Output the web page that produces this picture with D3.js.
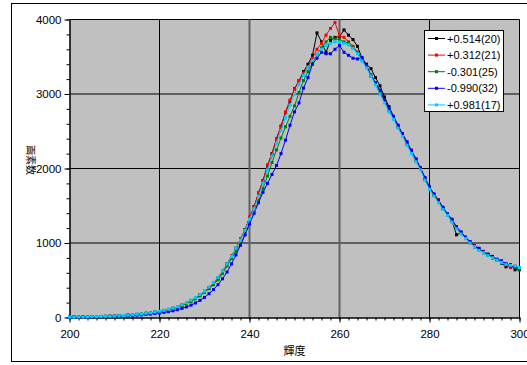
<!DOCTYPE html>
<html><head><meta charset="utf-8">
<script src="https://cdn.jsdelivr.net/npm/d3@7"></script>
<style>body{margin:0;background:#fff}svg{display:block}text{font-family:"Liberation Sans",Arial,sans-serif}</style>
</head><body><svg id="c" width="527" height="365"></svg>
<script>
const luminance = d3.range(200, 301);
const seriesNames = ["+0.514(20)", "+0.312(21)", "-0.301(25)", "-0.990(32)", "+0.981(17)"];
const seriesColors = ["#000000", "#ff0000", "#008000", "#0000ff", "#00ccff"];
const sBlack = [4,6,5,8,9,11,10,14,15,18, 19,24,26,33,35,43,47,57,60,72, 78,95,104,125,138,168,188,228,262,305,
  352,400,462,530,620,720,815,930,1050,1180, 1330,1490,1660,1840,2040,2200,2400,2570,2750,2900,
  3070,3180,3300,3400,3520,3820,3700,3560,3720,3760, 3770,3860,3790,3730,3640,3480,3400,3340,3220,3110,
  2960,2830,2700,2580,2450,2330,2230,2120,2000,1850, 1730,1650,1580,1460,1380,1300,1110,1140,1070,1010,
  950,920,870,840,800,780,730,680,710,640, 640];
const sRed = [5,4,7,6,10,9,12,13,16,15, 21,22,28,30,38,40,50,54,64,68, 82,90,110,118,145,160,195,220,265,300,
  350,390,465,520,625,705,830,915,1060,1160, 1350,1480,1680,1830,2050,2190,2400,2560,2760,2920,
  3060,3180,3280,3360,3480,3600,3680,3790,3880,3960, 3780,3760,3700,3640,3560,3470,3360,3250,3130,3010,
  2900,2780,2690,2550,2460,2330,2250,2100,2010,1860, 1760,1640,1580,1460,1390,1290,1200,1140,1060,1000,
  970,910,890,840,820,770,760,710,670,690, 660];
const sGreen = [5,5,6,8,8,10,12,12,15,16, 19,23,26,30,36,40,48,55,62,70, 78,90,104,120,138,158,185,215,250,290,
  335,385,440,505,590,690,790,890,990,1110, 1250,1400,1570,1730,1900,2080,2250,2410,2560,2700,
  2840,3020,3180,3300,3420,3530,3620,3700,3760,3740, 3730,3700,3680,3620,3560,3470,3380,3260,3150,3030,
  2910,2800,2690,2570,2440,2350,2220,2120,1990,1870, 1740,1650,1560,1470,1370,1310,1200,1130,1070,1010,
  950,920,870,850,800,780,740,720,700,670, 650];
const sBlue = [3,4,5,5,7,8,9,10,12,13, 15,17,20,23,27,31,35,40,46,53, 60,68,78,90,105,122,142,166,195,230,
  270,320,375,440,520,610,720,840,970,1110, 1260,1400,1540,1680,1800,1920,2040,2200,2380,2580,
  2760,2880,3080,3220,3400,3480,3560,3540,3540,3600, 3650,3560,3520,3480,3470,3490,3380,3240,3150,3050,
  2920,2810,2700,2580,2470,2360,2240,2130,2010,1880, 1750,1660,1570,1480,1390,1320,1220,1150,1080,1020,
  960,930,880,850,820,780,760,720,690,680, 660];
const sCyan = [6,5,8,7,9,12,11,14,16,17, 20,24,27,32,37,42,50,56,63,72, 84,96,110,126,146,170,198,232,268,310,
  355,410,470,540,625,720,820,930,1040,1170, 1320,1460,1630,1800,1980,2160,2340,2510,2680,2850,
  3000,3130,3250,3360,3450,3530,3600,3650,3680,3700, 3700,3680,3660,3610,3540,3440,3350,3240,3120,3000,
  2880,2760,2660,2540,2430,2310,2200,2090,1980,1840, 1720,1630,1540,1450,1370,1280,1190,1120,1060,1000,
  950,900,870,830,800,770,740,710,700,690, 670];
const xTicks = [200, 220, 240, 260, 280, 300];
const xMinorTicks = d3.range(200, 301, 2);
const yTicks = [0, 1000, 2000, 3000, 4000];
const yMinorTicks = d3.range(0, 4001, 200);
const xTitle = "輝度";
const yTitle = "画素数";

const allSeries = [sBlack, sRed, sGreen, sBlue, sCyan];
const svg = d3.select("#c");
svg.append("rect").attr("x", 11.5).attr("y", 3.5).attr("width", 540).attr("height", 358)
  .attr("fill", "#fff").attr("stroke", "#000");

const x = d3.scaleLinear().domain([200, 300]).range([69.5, 519.5]);
const y = d3.scaleLinear().domain([0, 4000]).range([317.5, 19.5]);

svg.append("rect").attr("x", x(200)).attr("y", y(4000)).attr("width", x(300) - x(200)).attr("height", y(0) - y(4000))
  .attr("fill", "#c0c0c0");

// gridlines
svg.append("g").selectAll("line").data(yTicks.filter(d => d > 0)).join("line")
  .attr("x1", x(200)).attr("x2", x(300)).attr("y1", d => y(d)).attr("y2", d => y(d))
  .attr("stroke", "#000").attr("stroke-width", 1);
svg.append("g").selectAll("line").data(xTicks.filter(d => d > 200)).join("line")
  .attr("x1", d => x(d)).attr("x2", d => x(d)).attr("y1", y(0)).attr("y2", y(4000))
  .attr("stroke", d => (d === 240 || d === 260) ? "#606060" : "#000")
  .attr("stroke-width", d => (d === 240 || d === 260) ? 2 : 1);

// axes
const fs = "11.5px";
const xMinor = svg.append("g").attr("transform", `translate(0,${y(0)})`)
  .call(d3.axisBottom(x).tickValues(xMinorTicks).tickSize(3).tickSizeOuter(0).tickFormat(""));
const xMajor = svg.append("g").attr("transform", `translate(0,${y(0)})`)
  .call(d3.axisBottom(x).tickValues(xTicks).tickSize(5).tickSizeOuter(0).tickPadding(7));
const yMinor = svg.append("g").attr("transform", `translate(${x(200)},0)`)
  .call(d3.axisLeft(y).tickValues(yMinorTicks).tickSize(3).tickSizeOuter(0).tickFormat(""));
const yMajor = svg.append("g").attr("transform", `translate(${x(200)},0)`)
  .call(d3.axisLeft(y).tickValues(yTicks).tickSize(5).tickSizeOuter(0).tickPadding(3).tickFormat(d3.format("d")));
[xMinor, xMajor, yMinor, yMajor].forEach(g => {
  g.selectAll("path,line").attr("stroke", "#000");
  g.selectAll("text").attr("fill", "#000").style("font-size", fs).style("font-family", '"Liberation Sans",Arial,sans-serif');
});

// series
const line = d3.line().x((d, i) => x(luminance[i])).y(d => y(d));
allSeries.forEach((s, k) => {
  const g = svg.append("g");
  g.append("path").datum(s).attr("d", line).attr("fill", "none")
    .attr("stroke", seriesColors[k]).attr("stroke-width", 1);
  g.selectAll("rect").data(s).join("rect")
    .attr("x", (d, i) => x(luminance[i]) - 1.5).attr("y", d => y(d) - 1.5)
    .attr("width", 3).attr("height", 3).attr("fill", seriesColors[k]);
});

// titles
svg.append("text").attr("x", (x(200) + x(300)) / 2).attr("y", 355).attr("text-anchor", "middle")
  .style("font-family", '"Noto Sans CJK JP",sans-serif').style("font-size", "11px").text(xTitle);
svg.append("text").attr("transform", `translate(27,160) rotate(90)`).attr("text-anchor", "middle")
  .style("font-family", '"Noto Sans CJK JP",sans-serif').style("font-size", "10px").text(yTitle);

// legend
const lg = svg.append("g");
lg.append("rect").attr("x", 424.5).attr("y", 30.5).attr("width", 79).attr("height", 81)
  .attr("fill", "#fff").attr("stroke", "#000");
seriesNames.forEach((n, k) => {
  const cy = 38.5 + k * 16.6;
  lg.append("line").attr("x1", 428).attr("x2", 445).attr("y1", cy).attr("y2", cy)
    .attr("stroke", seriesColors[k]).attr("stroke-width", 1);
  lg.append("rect").attr("x", 435).attr("y", cy - 1.5).attr("width", 3).attr("height", 3).attr("fill", seriesColors[k]);
  lg.append("text").attr("x", 447).attr("y", cy + 4).style("font-size", "11px").attr("fill", "#000").text(n);
});
</script></body></html>
